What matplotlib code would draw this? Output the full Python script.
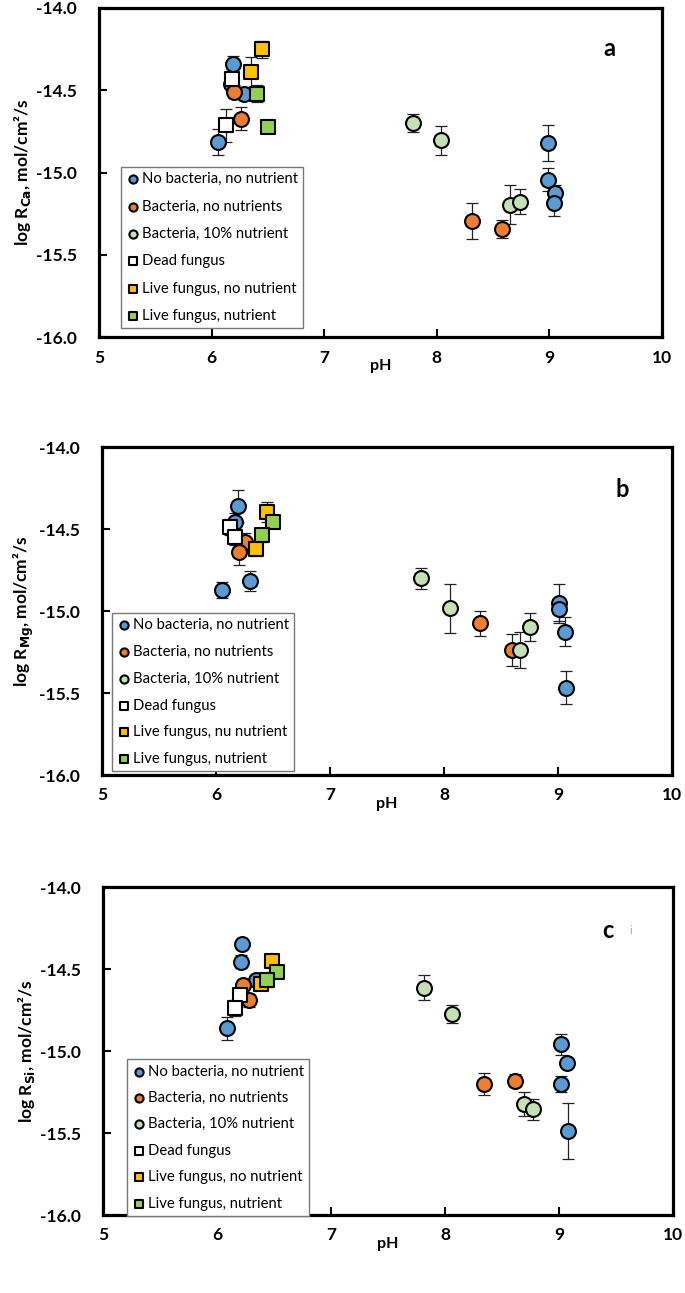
import matplotlib
matplotlib.use("Agg")
import matplotlib.pyplot as plt

plt.rcParams['font.family'] = ['Lato', 'DejaVu Sans']

# ---------------- data ----------------
labels_a = ["No bacteria, no nutrient", "Bacteria, no nutrients", "Bacteria, 10% nutrient",
            "Dead fungus", "Live fungus, no nutrient", "Live fungus, nutrient"]
labels_b = ["No bacteria, no nutrient", "Bacteria, no nutrients", "Bacteria, 10% nutrient",
            "Dead fungus", "Live fungus, nu nutrient", "Live fungus, nutrient"]
labels_c = labels_a

# Panel a (Ca)
a_blue_ph = [6.19, 6.17, 6.29, 6.06, 8.99, 8.99, 9.05, 9.04]
a_blue_r = [-14.34, -14.46, -14.52, -14.815, -14.82, -15.045, -15.126, -15.187]
a_blue_e = [0.05, 0.04, 0.04, 0.08, 0.11, 0.07, 0.05, 0.075]
a_orange_ph = [6.20, 6.26, 8.31, 8.58]
a_orange_r = [-14.51, -14.673, -15.293, -15.343]
a_orange_e = [0.04, 0.07, 0.11, 0.055]
a_lgreen_ph = [7.79, 8.04, 8.65, 8.74]
a_lgreen_r = [-14.70, -14.805, -15.195, -15.177]
a_lgreen_e = [0.055, 0.09, 0.12, 0.076]
a_dead_ph = [6.18, 6.13]
a_dead_r = [-14.43, -14.713]
a_dead_e = [0.06, 0.10]
a_yellow_ph = [6.45, 6.35]
a_yellow_r = [-14.252, -14.388]
a_yellow_e = [0.05, 0.09]
a_green_ph = [6.40, 6.50]
a_green_r = [-14.52, -14.724]
a_green_e = [0.05, 0.0]

# Panel b (Mg)
b_blue_ph = [6.19, 6.17, 6.30, 6.05, 9.01, 9.01, 9.06, 9.07]
b_blue_r = [-14.36, -14.455, -14.817, -14.872, -14.953, -14.99, -15.126, -15.468]
b_blue_e = [0.10, 0.05, 0.06, 0.05, 0.12, 0.07, 0.087, 0.10]
b_orange_ph = [6.25, 6.20, 8.32, 8.60]
b_orange_r = [-14.577, -14.638, -15.075, -15.238]
b_orange_e = [0.05, 0.08, 0.076, 0.10]
b_lgreen_ph = [7.80, 8.05, 8.75, 8.67]
b_lgreen_r = [-14.80, -14.984, -15.096, -15.238]
b_lgreen_e = [0.064, 0.15, 0.085, 0.11]
b_dead_ph = [6.12, 6.17]
b_dead_r = [-14.486, -14.547]
b_dead_e = [0.05, 0.05]
b_yellow_ph = [6.45, 6.35]
b_yellow_r = [-14.395, -14.622]
b_yellow_e = [0.06, 0.04]
b_green_ph = [6.50, 6.40]
b_green_r = [-14.455, -14.537]
b_green_e = [0.03, 0.04]

# Panel c (Si)
c_blue_ph = [6.22, 6.21, 6.34, 6.09, 9.02, 9.07, 9.02, 9.08]
c_blue_r = [-14.35, -14.455, -14.57, -14.86, -14.96, -15.075, -15.20, -15.49]
c_blue_e = [0.03, 0.04, 0.03, 0.07, 0.066, 0.03, 0.05, 0.17]
c_orange_ph = [6.23, 6.28, 8.34, 8.61]
c_orange_r = [-14.60, -14.69, -15.20, -15.18]
c_orange_e = [0.03, 0.04, 0.066, 0.04]
c_lgreen_ph = [7.82, 8.06, 8.69, 8.77]
c_lgreen_r = [-14.614, -14.772, -15.325, -15.355]
c_lgreen_e = [0.077, 0.055, 0.073, 0.064]
c_dead_ph = [6.20, 6.16]
c_dead_r = [-14.66, -14.736]
c_dead_e = [0.05, 0.05]
c_yellow_ph = [6.48, 6.39]
c_yellow_r = [-14.45, -14.59]
c_yellow_e = [0.03, 0.04]
c_green_ph = [6.53, 6.44]
c_green_r = [-14.52, -14.57]
c_green_e = [0.03, 0.04]

yticks = [-16.0, -15.5, -15.0, -14.5, -14.0]
xticks = [5, 6, 7, 8, 9, 10]

# ---------------- style ----------------
colors = ["#5B9BD5", "#ED7D31", "#C5E0B4", "#FFFFFF", "#FFC000", "#92D050"]
markers = ["o", "o", "o", "s", "s", "s"]

W, H = 685, 1293
fig = plt.figure(figsize=(W / 100, H / 100), dpi=100)


def frac(l, r, t, b):
    return [l / W, 1 - b / H, (r - l) / W, (b - t) / H]


panels = [
    dict(box=(99, 662, 8, 337), letter="a", letter_xy=(609, 48),
         ylabel=r"log R$_{\mathbf{Ca}}$, mol/cm²/s", labels=labels_a,
         leg=(0.039, 0.517), lsp=0.9,
         series=[(a_blue_ph, a_blue_r, a_blue_e), (a_orange_ph, a_orange_r, a_orange_e),
                 (a_lgreen_ph, a_lgreen_r, a_lgreen_e), (a_dead_ph, a_dead_r, a_dead_e),
                 (a_yellow_ph, a_yellow_r, a_yellow_e), (a_green_ph, a_green_r, a_green_e)]),
    dict(box=(102, 672, 447, 775), letter="b", letter_xy=(622, 490),
         ylabel=r"log R$_{\mathbf{Mg}}$, mol/cm²/s", labels=labels_b,
         leg=(0.0175, 0.494), lsp=0.86,
         series=[(b_blue_ph, b_blue_r, b_blue_e), (b_orange_ph, b_orange_r, b_orange_e),
                 (b_lgreen_ph, b_lgreen_r, b_lgreen_e), (b_dead_ph, b_dead_r, b_dead_e),
                 (b_yellow_ph, b_yellow_r, b_yellow_e), (b_green_ph, b_green_r, b_green_e)]),
    dict(box=(103, 673, 887, 1215), letter="c", letter_xy=(608, 930),
         ylabel=r"log R$_{\mathbf{Si}}$, mol/cm²/s", labels=labels_c,
         leg=(0.042, 0.475), lsp=0.84,
         series=[(c_blue_ph, c_blue_r, c_blue_e), (c_orange_ph, c_orange_r, c_orange_e),
                 (c_lgreen_ph, c_lgreen_r, c_lgreen_e), (c_dead_ph, c_dead_r, c_dead_e),
                 (c_yellow_ph, c_yellow_r, c_yellow_e), (c_green_ph, c_green_r, c_green_e)]),
]

for p in panels:
    ax = fig.add_axes(frac(*p["box"]))
    ax.set_xlim(5, 10)
    ax.set_ylim(-16, -14)
    ax.set_xticks(xticks)
    ax.set_yticks(yticks)
    ax.set_xticklabels([str(v) for v in xticks], fontweight="bold", fontsize=12.5)
    ax.set_yticklabels([f"{v:.1f}" for v in yticks], fontweight="bold", fontsize=12.5)
    ax.tick_params(axis="both", direction="in", length=6, width=1.5)
    ax.tick_params(axis="y", pad=16)
    ax.tick_params(axis="x", pad=9)
    for s in ax.spines.values():
        s.set_linewidth(2.3)
    handles = []
    for (ph, r, e), col, mk, lab in zip(p["series"], colors, markers, p["labels"]):
        ax.errorbar(ph, r, yerr=e, fmt="none", ecolor="#222222", elinewidth=0.9,
                    capsize=4, capthick=0.9, zorder=2)
        h = ax.scatter(ph, r, s=115, marker=mk, facecolor=col, edgecolor="black",
                       linewidth=1.5, zorder=3, label=lab)
        handles.append(h)
    leg = ax.legend(handles=handles, loc="upper left", bbox_to_anchor=p["leg"],
                    borderaxespad=0, fontsize=10.7, frameon=True, fancybox=False,
                    edgecolor="#777777", framealpha=1, markerscale=0.55,
                    handletextpad=0.15, handlelength=0.9, labelspacing=p["lsp"],
                    borderpad=0.35)
    leg.get_frame().set_linewidth(1.0)
    ax.set_xlabel("pH", fontweight="bold", fontsize=11.5, labelpad=-5)
    ax.set_ylabel(p["ylabel"], fontweight="bold", fontsize=12.5, labelpad=2)
    lx, ly = p["letter_xy"]
    fig.text(lx / W, 1 - ly / H, p["letter"], fontweight="bold", fontsize=17,
             ha="center", va="center")
    if p["letter"] == "c":
        fig.text(631 / W, 1 - 930 / H, "i", color="#aaaaaa", fontsize=8,
                 ha="center", va="center")

fig.savefig("out.png", dpi=100)
